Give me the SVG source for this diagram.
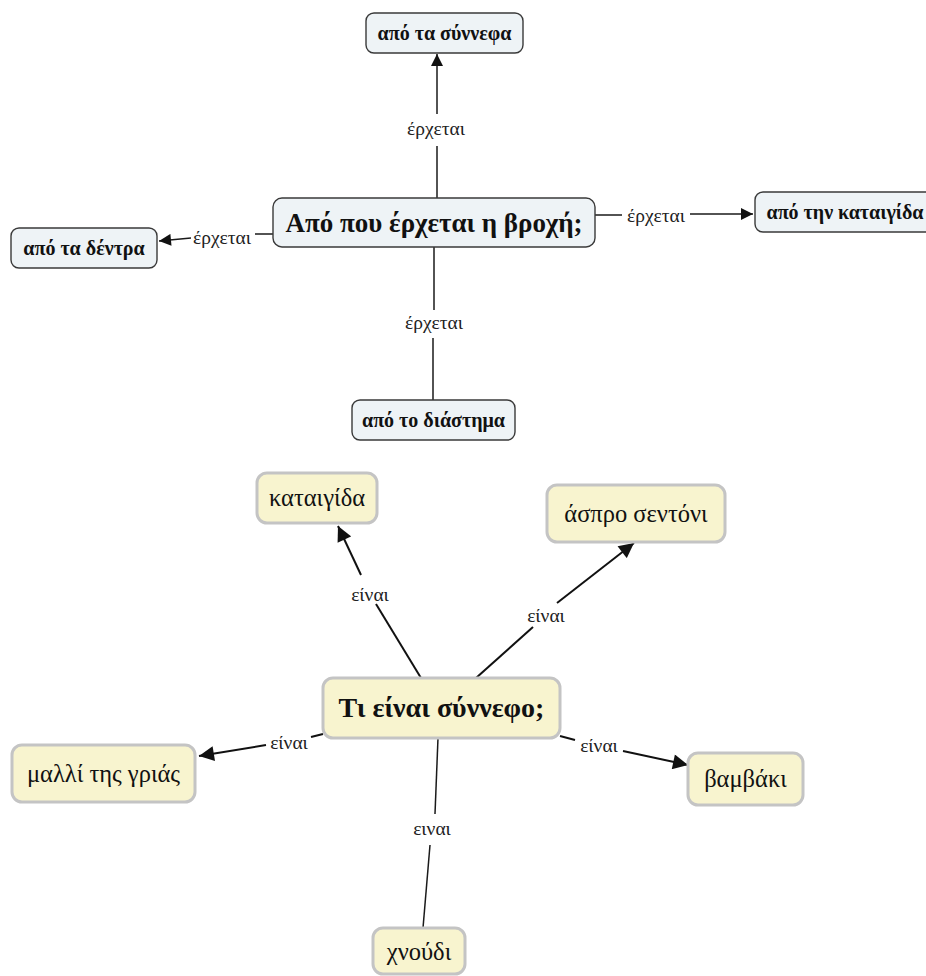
<svg xmlns="http://www.w3.org/2000/svg" width="926" height="976" viewBox="0 0 926 976">
<style>
.bg{fill:#ffffff}
.n1 rect{fill:#eef3f6;stroke:#3a3a3a;stroke-width:1.4}
.n2 rect{fill:#f8f4cf;stroke:#c4c4c4;stroke-width:3}
.t1{font-family:"Liberation Serif","DejaVu Serif",serif;font-weight:bold;font-size:20px;fill:#111;text-anchor:middle}
.tc1{font-size:27px}
.t2{font-family:"Liberation Serif","DejaVu Serif",serif;font-size:24.5px;fill:#111;text-anchor:middle}
.tc2{font-weight:bold;font-size:28px}
.lbl{font-family:"Liberation Serif","DejaVu Serif",serif;font-size:19.5px;fill:#222;text-anchor:middle}
.ln{stroke:#1a1a1a;stroke-width:1.5;fill:none}
.ln2{stroke:#111;stroke-width:2;fill:none}
</style>
<defs>
<marker id="ah" viewBox="0 0 10 10" refX="10" refY="5" markerWidth="13" markerHeight="12" markerUnits="userSpaceOnUse" orient="auto"><path d="M0,0 L10,5 L0,10 z" fill="#111"/></marker>
<marker id="ah2" viewBox="0 0 10 10" refX="10" refY="5" markerWidth="17" markerHeight="15" markerUnits="userSpaceOnUse" orient="auto"><path d="M0,0 L10,5 L0,10 z" fill="#111"/></marker>
</defs>
<rect class="bg" x="0" y="0" width="926" height="976"/>
<g id="connectors">
  <line class="ln" x1="437" y1="198" x2="437" y2="146"/>
  <line class="ln" x1="437" y1="114" x2="437" y2="54" marker-end="url(#ah)"/>
  <text class="lbl" x="436" y="135">έρχεται</text>
  <line class="ln" x1="273" y1="234" x2="255" y2="234"/>
  <line class="ln" x1="191" y1="238" x2="159" y2="241" marker-end="url(#ah)"/>
  <text class="lbl" x="222" y="244">έρχεται</text>
  <line class="ln" x1="595" y1="215" x2="622" y2="215"/>
  <line class="ln" x1="690" y1="214" x2="753" y2="214" marker-end="url(#ah)"/>
  <text class="lbl" x="656" y="222">έρχεται</text>
  <line class="ln" x1="434" y1="247" x2="434" y2="310"/>
  <line class="ln" x1="433" y1="338" x2="433" y2="400"/>
  <text class="lbl" x="434" y="329">έρχεται</text>
  <line class="ln2" x1="421" y1="678" x2="376" y2="604"/>
  <line class="ln2" x1="361" y1="575" x2="338" y2="526" marker-end="url(#ah2)"/>
  <text class="lbl" x="370" y="601">είναι</text>
  <line class="ln2" x1="476" y1="678" x2="533" y2="627"/>
  <line class="ln2" x1="557" y1="603" x2="634" y2="543" marker-end="url(#ah2)"/>
  <text class="lbl" x="546" y="622">είναι</text>
  <line class="ln2" x1="323" y1="734" x2="311" y2="737"/>
  <line class="ln2" x1="266" y1="745" x2="199" y2="756" marker-end="url(#ah2)"/>
  <text class="lbl" x="289" y="749">είναι</text>
  <line class="ln2" x1="560" y1="736" x2="575" y2="740"/>
  <line class="ln2" x1="623" y1="751" x2="688" y2="765" marker-end="url(#ah2)"/>
  <text class="lbl" x="599" y="752">είναι</text>
  <line class="ln" x1="438" y1="738" x2="435" y2="814"/>
  <line class="ln" x1="430" y1="845" x2="423" y2="928"/>
  <text class="lbl" x="432" y="835">ειναι</text>
</g>
<g id="n-synnefa" class="n1"><rect x="366" y="13" width="157" height="40" rx="8"/><text class="t1" x="444.5" y="40">από τα σύννεφα</text></g>
<g id="n-central1" class="n1"><rect x="273" y="198" width="322" height="49" rx="9"/><text class="t1 tc1" x="434" y="232">Από που έρχεται η βροχή;</text></g>
<g id="n-dentra" class="n1"><rect x="11" y="228" width="146" height="40" rx="8"/><text class="t1" x="84" y="255">από τα δέντρα</text></g>
<g id="n-kataigida1" class="n1"><rect x="755" y="192" width="180" height="40" rx="8"/><text class="t1" x="845" y="219">από την καταιγίδα</text></g>
<g id="n-diastima" class="n1"><rect x="352" y="400" width="163" height="40" rx="8"/><text class="t1" x="433.5" y="427">από το διάστημα</text></g>
<g id="n-central2" class="n2"><rect x="323" y="678" width="237" height="60" rx="10"/><text class="t2 tc2" x="441.5" y="717">Τι είναι σύννεφο;</text></g>
<g id="n-kataigida2" class="n2"><rect x="257" y="473" width="120" height="50" rx="10"/><text class="t2" x="317" y="506">καταιγίδα</text></g>
<g id="n-sentoni" class="n2"><rect x="547" y="485" width="178" height="57" rx="10"/><text class="t2" x="636" y="522">άσπρο σεντόνι</text></g>
<g id="n-malli" class="n2"><rect x="12" y="745" width="183" height="57" rx="10"/><text class="t2" x="103.5" y="782">μαλλί της γριάς</text></g>
<g id="n-vamvaki" class="n2"><rect x="688" y="753" width="115" height="52" rx="10"/><text class="t2" x="745.5" y="787">βαμβάκι</text></g>
<g id="n-chnoudi" class="n2"><rect x="373" y="928" width="92" height="46" rx="10"/><text class="t2" x="419" y="960">χνούδι</text></g>
</svg>
